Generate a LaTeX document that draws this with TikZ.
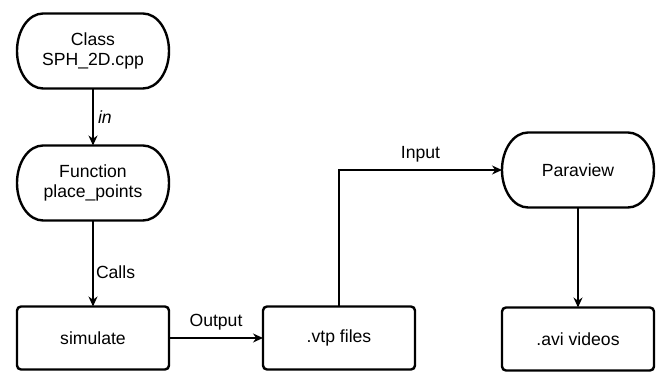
\documentclass[tikz,border=0pt]{standalone}
\usepackage{fontspec}
\setmainfont{Liberation Sans}
\usepackage{tikz}
\usetikzlibrary{arrows.meta}

\begin{document}
\begin{tikzpicture}[x=1pt, y=1pt, >={Stealth[length=10pt,width=9pt]},
  every node/.style={font=\fontsize{17.6}{20}\selectfont, align=center, outer sep=0pt, inner sep=0pt},
  box/.style={draw, line width=2.4pt, rounded corners=4pt, minimum width=152pt, minimum height=63pt},
  term/.style={minimum width=152pt, minimum height=75pt},
  outline/.style={line width=2.4pt},
  link/.style={line width=1.3pt, ->}]
\useasboundingbox (0,0) rectangle (667,383);
% terminators (outline drawn below) and process boxes
\node[term] (cls) at (93,332) {Class\\SPH\_2D.cpp};
\node[term] (fun) at (93,200) {Function\\place\_points};
\node[term] (pv)  at (578,213) {Paraview};
\node[box]  (sim) at (93,45)  {simulate};
\node[box]  (vtp) at (339,45) {.vtp files};
\node[box]  (avi) at (578,44) {.avi videos};
\foreach \n in {cls,fun,pv}
  {\draw[outline] ([xshift=26pt]\n.north west) -- ([xshift=-26pt]\n.north east)
     arc[start angle=90,end angle=-90,x radius=26pt,y radius=37.5pt]
     -- ([xshift=26pt]\n.south west)
     arc[start angle=270,end angle=90,x radius=26pt,y radius=37.5pt] -- cycle;}
% connectors
\draw[link] (cls) -- (fun) node[midway,right=5pt] {\itshape in};
\draw[link] (fun) -- (sim) node[pos=0.6,right=3pt] {Calls};
\draw[link] (sim) -- (vtp) node[midway,above=8pt] {Output};
\draw[link] (vtp.north) |- (pv.west) node[pos=0.75,above=8pt] {Input};
\draw[link] (pv) -- (avi);
\end{tikzpicture}
\end{document}
